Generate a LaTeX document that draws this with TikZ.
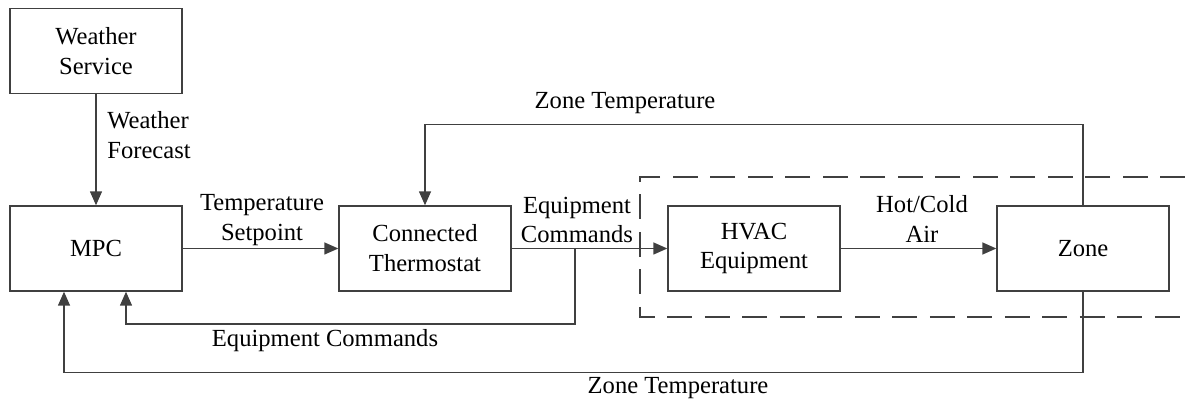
\documentclass[tikz,border=0pt]{standalone}
\usepackage{fontspec}
\setmainfont{Liberation Serif}
\newfontfamily\tnrfont{Liberation Serif}
\usetikzlibrary{arrows.meta}
\begin{document}
\begin{tikzpicture}[x=0.02cm,y=-0.02cm,
  every node/.style={font=\tnrfont\fontsize{14}{17}\selectfont, text=black},
  blk/.style={draw=black!75, line width=0.8pt, minimum width=3.44cm, minimum height=1.7cm, inner sep=0pt, align=center},
  arr/.style={draw=black!75, line width=0.8pt, -{Triangle[length=0.28cm,width=0.24cm]}},
  lbl/.style={align=center, inner sep=0pt},
  dashbox/.style={draw=black!75, line width=0.8pt, dash pattern=on 0.5cm off 0.25cm}]
\useasboundingbox (0,0) rectangle (1185,404);
\node[blk] (ws) at (96,51) {Weather\\Service};
\node[blk] (mpc) at (96,248.5) {MPC};
\node[blk] (ct) at (425,248.5) {Connected\\Thermostat};
\node[blk] (hvac) at (754,248.5) {HVAC\\Equipment};
\node[blk] (zone) at (1083,248.5) {Zone};
\draw[dashbox] (1185,177) -- (640,177) -- (640,317) -- (1185,317);
\draw[arr] (ws) -- (mpc);
\draw[arr] (mpc) -- (ct);
\draw[arr] (ct) -- (hvac);
\draw[arr] (hvac) -- (zone);
\draw[arr] (zone.north) -- ++(0,-81) -| (ct.north);
\draw[arr] (zone.south) -- ++(0,81) -| ([xshift=-0.64cm]mpc.south);
\coordinate (split) at (575,248.5);
\draw[arr] (split) -- ++(0,75.5) -| ([xshift=0.6cm]mpc.south);
\node[lbl, anchor=west, align=left] (wf) at (107,135) {Weather\\Forecast};
\node[lbl] (ts) at (262,220) {Temperature\\Setpoint};
\node[lbl] (ec1) at (577,220) {Equipment\\Commands};
\node[lbl] (hc) at (922,219) {Hot/Cold\\Air};
\node[lbl] (zt1) at (625,103) {Zone Temperature};
\node[lbl] (ec2) at (325,341) {Equipment Commands};
\node[lbl] (zt2) at (678,388) {Zone Temperature};
\end{tikzpicture}
\end{document}
